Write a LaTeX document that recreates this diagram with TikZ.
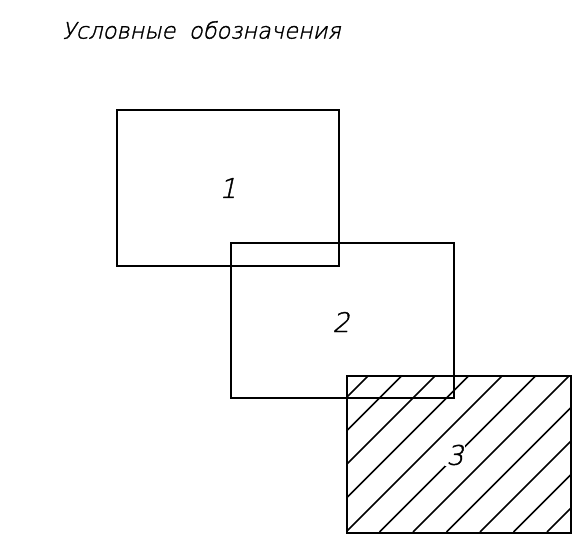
\documentclass[tikz,border=0pt]{standalone}
\usepackage{fontspec}
\newfontfamily\gostthin[FakeSlant=0.22,FakeBold=1.5]{DejaVu Sans ExtraLight}
\begin{document}
\begin{tikzpicture}[x=1pt,y=-1pt,
  box/.style={draw=black,line width=1.8pt},
  hatch/.style={draw=black,line width=1.6pt},
  lbl/.style={font=\gostthin\fontsize{27}{27}\selectfont,inner sep=1pt}]
\useasboundingbox (0,0) rectangle (573,540);
\node[anchor=west,font=\gostthin\fontsize{22.5}{22.5}\selectfont,inner sep=0pt] (title) at (62,30) {Условные\hspace{0.6em}обозначения};
\begin{scope}
\clip (346,375) rectangle (570,532);
\foreach \k in {-6,...,7} \draw[hatch] (346+\k*33.5,532) -- ++(220,-220);
\end{scope}
\node[box,minimum width=222pt,minimum height=156pt,anchor=north west,inner sep=0pt] (r1) at (116,109) {};
\node[box,minimum width=223pt,minimum height=155pt,anchor=north west,inner sep=0pt] (r2) at (230,242) {};
\node[box,minimum width=224pt,minimum height=157pt,anchor=north west,inner sep=0pt] (r3) at (346,375) {};
\node[lbl] (l1) at (228,188) {1};
\node[lbl] (l2) at (341,322) {2};
\node[lbl,fill=white] (l3) at (455,455) {3};
\end{tikzpicture}
\end{document}
